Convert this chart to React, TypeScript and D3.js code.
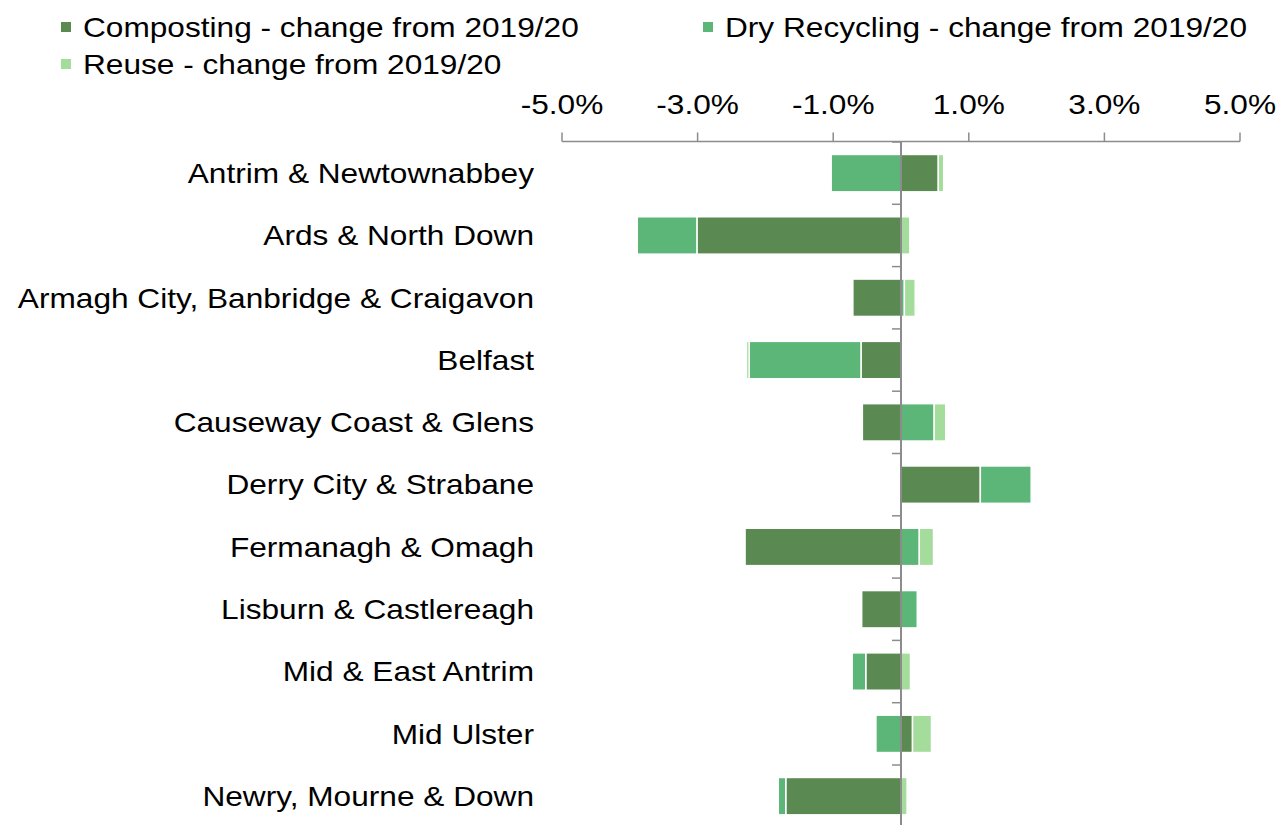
import React from "react";
import * as d3 from "d3";

const categories = [
  "Antrim & Newtownabbey",
  "Ards & North Down",
  "Armagh City, Banbridge & Craigavon",
  "Belfast",
  "Causeway Coast & Glens",
  "Derry City & Strabane",
  "Fermanagh & Omagh",
  "Lisburn & Castlereagh",
  "Mid & East Antrim",
  "Mid Ulster",
  "Newry, Mourne & Down",
];

const composting = [0.55, -3.01, -0.71, -0.59, -0.57, 1.17, -2.3, -0.58, -0.52, 0.17, -1.7];
const dryRecycling = [-1.03, -0.88, 0.05, -1.65, 0.49, 0.75, 0.27, 0.24, -0.2, -0.37, -0.11];
const reuse = [0.08, 0.13, 0.16, -0.04, 0.17, 0.0, 0.21, 0.0, 0.14, 0.28, 0.09];

const seriesNames = [
  "Composting - change from 2019/20",
  "Dry Recycling - change from 2019/20",
  "Reuse - change from 2019/20",
];
const seriesColors = ["#5a8a52", "#5cb677", "#a4dc9b"];
const tickValues = [-5, -3, -1, 1, 3, 5];

const W = 1288;
const H = 825;
const FONT = "'Liberation Sans', Arial, sans-serif";
const FS = 28;
const SX = 1.13;

function fmtPct(t: number) {
  return (t < 0 ? "-" : "") + d3.format(".1f")(Math.abs(t)) + "%";
}

export default function App() {
  const x = d3.scaleLinear().domain([-5, 5]).range([562, 1240]);
  const y = d3
    .scaleBand<string>()
    .domain(categories)
    .range([142, 827.3])
    .paddingInner(0.4)
    .paddingOuter(0.2);

  const keys = ["c", "d", "r"];
  const table = categories.map((cat, i) => ({
    cat,
    c: composting[i],
    d: dryRecycling[i],
    r: reuse[i],
  }));
  const stacked = d3
    .stack<any>()
    .keys(keys)
    .offset(d3.stackOffsetDiverging)(table);

  const zeroX = x(0);
  const axisY = 141.5;

  return (
    <svg
      width={W}
      height={H}
      style={{ position: "absolute", left: 0, top: 0, background: "#fff" }}
      fontFamily={FONT}
    >
      {/* Legend */}
      {[
        { i: 0, lx: 61, ly: 27 },
        { i: 1, lx: 703, ly: 27 },
        { i: 2, lx: 61, ly: 64 },
      ].map(({ i, lx, ly }) => (
        <g key={i}>
          <rect x={lx} y={ly - 5} width={10} height={10} fill={seriesColors[i]} />
          <text
            transform={`translate(${lx + 22},${ly}) scale(${SX},1)`}
            dy="0.35em"
            fontSize={FS}
            fill="#000"
          >
            {seriesNames[i]}
          </text>
        </g>
      ))}

      {/* X axis */}
      <line x1={x(-5)} x2={x(5)} y1={axisY} y2={axisY} stroke="#8c8c8c" strokeWidth={1.5} />
      {tickValues.map((t) => (
        <g key={t}>
          <line x1={x(t)} x2={x(t)} y1={axisY - 9} y2={axisY} stroke="#8c8c8c" strokeWidth={1.5} />
          <text
            transform={`translate(${x(t)},114) scale(${SX},1)`}
            textAnchor="middle"
            fontSize={FS}
            fill="#000"
          >
            {fmtPct(t)}
          </text>
        </g>
      ))}

      {/* Category labels */}
      {categories.map((c) => (
        <text
          key={c}
          transform={`translate(534,${(y(c) as number) + y.bandwidth() / 2}) scale(${SX},1)`}
          dy="0.35em"
          textAnchor="end"
          fontSize={FS}
          fill="#000"
        >
          {c}
        </text>
      ))}

      {/* Bars */}
      {stacked.map((s, si) => (
        <g key={s.key} fill={seriesColors[si]}>
          {s.map((d, i) => {
            const x0 = x(Math.min(d[0], d[1]));
            const x1 = x(Math.max(d[0], d[1]));
            if (x1 - x0 <= 0) return null;
            return (
              <rect
                key={i}
                x={x0}
                y={y(categories[i]) as number}
                width={x1 - x0}
                height={y.bandwidth()}
                stroke="#ffffff"
                strokeWidth={1.5}
              />
            );
          })}
        </g>
      ))}

      {/* Vertical axis at zero */}
      <line x1={zeroX} x2={zeroX} y1={axisY} y2={H + 10} stroke="#8c8c8c" strokeWidth={2} />
      {categories.map((c) => {
        const yy = (y(c) as number) - (y.step() - y.bandwidth()) / 2;
        return (
          <line key={c} x1={zeroX - 9} x2={zeroX} y1={yy} y2={yy} stroke="#8c8c8c" strokeWidth={1.5} />
        );
      })}
    </svg>
  );
}
